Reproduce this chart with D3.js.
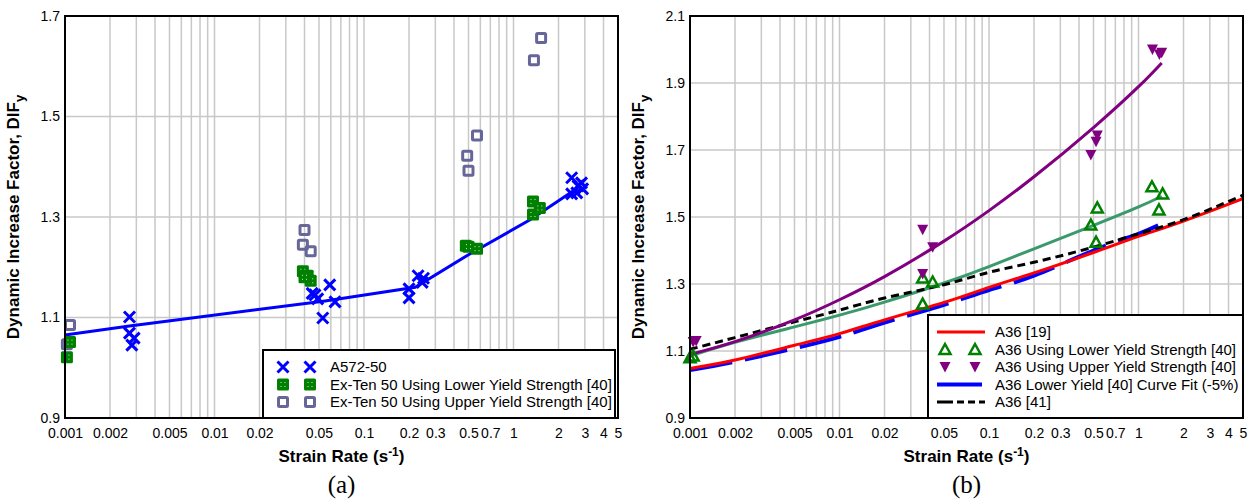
<!DOCTYPE html>
<html><head><meta charset="utf-8">
<script src="https://cdn.jsdelivr.net/npm/d3@7"></script>
<style>body{margin:0;background:#fff}svg{display:block}</style>
</head><body>
<svg id="c" width="1252" height="500"></svg>
<script>
// ---------- DATA ----------
const xTickValues = [0.001,0.002,0.005,0.01,0.02,0.05,0.1,0.2,0.3,0.5,0.7,1,2,3,4,5];
const xTickLabels = ["0.001","0.002","0.005","0.01","0.02","0.05","0.1","0.2","0.3","0.5","0.7","1","2","3","4","5"];
const yTicksA = [0.9,1.1,1.3,1.5,1.7];
const yTicksB = [0.9,1.1,1.3,1.5,1.7,1.9,2.1];

// Panel (a)
const a572Points = [[0.0027,1.101],[0.0027,1.069],[0.0029,1.059],[0.0028,1.045],
  [0.045,1.148],[0.049,1.137],[0.059,1.165],[0.053,1.099],[0.064,1.131],[0.047,1.145],
  [0.2,1.139],[0.2,1.157],[0.23,1.183],[0.25,1.178],[0.245,1.17],
  [2.45,1.378],[2.7,1.362],[2.9,1.356],[2.45,1.346],[2.65,1.348],[2.85,1.368]];
const a572Fit = [[0.001,1.065],[0.0027,1.083],[0.055,1.133],[0.22,1.16],[0.5,1.225],[1.3,1.295],[2.7,1.358]];
const exTenLower = [[0.00108,1.051],[0.00103,1.021],[0.039,1.192],[0.042,1.183],[0.044,1.173],[0.040,1.18],
  [0.48,1.243],[0.5,1.241],[0.57,1.237],[1.35,1.331],[1.35,1.305],[1.5,1.318]];
const exTenUpper = [[0.00108,1.085],[0.00103,1.047],[0.04,1.274],[0.039,1.245],[0.044,1.232],
  [0.57,1.462],[0.49,1.422],[0.5,1.392],[1.53,1.656],[1.37,1.612]];
const legendA = ["A572-50","Ex-Ten 50 Using Lower Yield Strength [40]","Ex-Ten 50 Using Upper Yield Strength [40]"];

// Panel (b)
const curveRates = [0.001,0.002,0.005,0.01,0.02,0.05,0.1,0.2,0.5,1,2,5];
const a36_19 = [1.048,1.073,1.117,1.152,1.193,1.245,1.290,1.333,1.394,1.442,1.488,1.555];
const a36_41 = [1.105,1.14,1.187,1.222,1.258,1.298,1.335,1.365,1.41,1.45,1.492,1.565];
const fitRates = [0.001,0.002,0.005,0.01,0.02,0.05,0.1,0.2,0.5,1,1.43];
const lowerFit = [1.085,1.126,1.172,1.207,1.246,1.303,1.352,1.405,1.475,1.53,1.562];
const upperFit = [1.09,1.128,1.193,1.253,1.322,1.428,1.519,1.62,1.767,1.889,1.96];
const lowerFit5 = [1.043,1.068,1.108,1.142,1.185,1.238,1.282,1.325,1.40,1.45,1.48];
const a36Lower = [[0.00105,1.085],[0.001,1.08],[0.036,1.318],[0.042,1.306],[0.036,1.240],
  [0.53,1.527],[0.48,1.476],[0.52,1.425],[1.23,1.59],[1.45,1.569],[1.37,1.521]];
const a36Upper = [[0.00105,1.127],[0.0011,1.13],[0.036,1.462],[0.042,1.41],[0.036,1.33],
  [0.53,1.743],[0.52,1.725],[0.48,1.685],[1.24,2.0],[1.43,1.99],[1.38,1.985]];
const legendB = ["A36 [19]","A36 Using Lower Yield Strength [40]","A36 Using Upper Yield Strength [40]","A36 Lower Yield [40] Curve Fit (-5%)","A36 [41]"];

// ---------- DRAW ----------
const svg = d3.select("#c");
const FONT = "'Liberation Sans', Arial, sans-serif";
const yTop = 16, yBot = 418;

function panel(x0, x1, yDomain, yTicks, label) {
  const x = d3.scaleLog().domain([0.001,5]).range([x0,x1]);
  const y = d3.scaleLinear().domain(yDomain).range([yBot,yTop]);
  const g = svg.append("g");
  const grid = [];
  for (let e=-3; e<=0; e++) for (let m=1; m<=9; m++) { const v=m*Math.pow(10,e); if (v<=5.0001) grid.push(v); }
  g.selectAll(".vg").data(grid).join("line").attr("x1",d=>x(d)).attr("x2",d=>x(d))
    .attr("y1",yTop).attr("y2",yBot).attr("stroke","#c8c8c8").attr("stroke-width",1.5);
  g.selectAll(".hg").data(yTicks).join("line").attr("y1",d=>y(d)).attr("y2",d=>y(d))
    .attr("x1",x0).attr("x2",x1).attr("stroke","#c8c8c8").attr("stroke-width",1.5);
  const xa = d3.axisBottom(x).tickValues(xTickValues).tickFormat((d,i)=>xTickLabels[i]).tickSize(0).tickPadding(10);
  const gx = g.append("g").attr("transform",`translate(0,${yBot})`).call(xa);
  gx.select(".domain").remove();
  gx.selectAll("text").attr("font-family",FONT).attr("font-size",14).attr("fill","#000");
  const ya = d3.axisLeft(y).tickValues(yTicks).tickFormat(d3.format(".1f")).tickSize(0).tickPadding(5);
  const gy = g.append("g").attr("transform",`translate(${x0},0)`).call(ya);
  gy.select(".domain").remove();
  gy.selectAll("text").attr("font-family",FONT).attr("font-size",14).attr("fill","#000");
  const cx = (x0+x1)/2;
  const xt = svg.append("text").attr("x",cx).attr("y",462).attr("text-anchor","middle")
    .attr("font-family",FONT).attr("font-size",17).attr("font-weight","bold");
  xt.append("tspan").text("Strain Rate (s");
  xt.append("tspan").attr("dy",-6).attr("font-size",12).text("-1");
  xt.append("tspan").attr("dy",6).text(")");
  const yt = svg.append("text").attr("transform",`translate(${x0-46},${(yTop+yBot)/2}) rotate(-90)`)
    .attr("text-anchor","middle").attr("font-family",FONT).attr("font-size",17).attr("font-weight","bold");
  yt.append("tspan").text("Dynamic Increase Factor, DIF");
  yt.append("tspan").attr("dy",5).attr("font-size",13).text("y");
  svg.append("text").attr("x",cx).attr("y",493).attr("text-anchor","middle")
    .attr("font-family","'Liberation Serif','Times New Roman',serif").attr("font-size",25).text(label);
  return {x,y,g,x0,x1};
}

function xMark(sel, s) { sel.append("path").attr("d",`M${-s},${-s}L${s},${s}M${-s},${s}L${s},${-s}`)
  .attr("stroke","#0000ff").attr("stroke-width",3).attr("fill","none"); }
function greenSq(sel) {
  sel.append("rect").attr("x",-6).attr("y",-6).attr("width",12).attr("height",12).attr("rx",1.5).attr("fill","#008000");
  [[-2.5,-2.5],[1.5,-2.5],[-2.5,1.5],[1.5,1.5]].forEach(p=>sel.append("rect").attr("x",p[0]).attr("y",p[1]).attr("width",1).attr("height",1).attr("fill","#cfe8cf"));
}
function greySq(sel) { sel.append("rect").attr("x",-4.5).attr("y",-4.5).attr("width",9).attr("height",9).attr("rx",1)
  .attr("fill","none").attr("stroke","#666699").attr("stroke-width",3); }
function triUp(sel) { sel.append("path").attr("d","M0,-5.5L5.5,4.5L-5.5,4.5Z").attr("fill","none").attr("stroke","#008000").attr("stroke-width",2.5); }
function triDown(sel) { sel.append("path").attr("d","M-5.5,-5L5.5,-5L0,5.5Z").attr("fill","#800080"); }

// ----- Panel A -----
const A = panel(65, 618, [0.9,1.7], yTicksA, "(a)");
const lineA = d3.line().x(d=>A.x(d[0])).y(d=>A.y(d[1]));
A.g.append("path").datum(a572Fit).attr("d",lineA).attr("fill","none").attr("stroke","#0000ff").attr("stroke-width",3);
A.g.selectAll(".gu").data(exTenUpper).join("g").attr("transform",d=>`translate(${A.x(d[0])},${A.y(d[1])})`).each(function(){greySq(d3.select(this));});
A.g.selectAll(".gl").data(exTenLower).join("g").attr("transform",d=>`translate(${A.x(d[0])},${A.y(d[1])})`).each(function(){greenSq(d3.select(this));});
A.g.selectAll(".xm").data(a572Points).join("g").attr("transform",d=>`translate(${A.x(d[0])},${A.y(d[1])})`).each(function(){xMark(d3.select(this),5.5);});
A.g.append("rect").attr("x",A.x0).attr("y",yTop).attr("width",A.x1-A.x0).attr("height",yBot-yTop).attr("fill","none").attr("stroke","#000").attr("stroke-width",2);
const LA = svg.append("g");
LA.append("rect").attr("x",263).attr("y",350).attr("width",352).attr("height",68).attr("fill","#fff").attr("stroke","#000").attr("stroke-width",2);
const markA = [s=>xMark(s,5.5), greenSq, greySq];
legendA.forEach((t,i)=>{
  const yy = 367 + i*17.5;
  [283,310].forEach(xx=>{ const s=LA.append("g").attr("transform",`translate(${xx},${yy})`); markA[i](s); });
  LA.append("text").attr("x",330).attr("y",yy+5).attr("font-family",FONT).attr("font-size",15).text(t);
});

// ----- Panel B -----
const B = panel(690, 1243, [0.9,2.1], yTicksB, "(b)");
const lineB = d3.line().curve(d3.curveNatural).x(d=>B.x(d[0])).y(d=>B.y(d[1]));
const zip = (xs,ys)=>xs.map((v,i)=>[v,ys[i]]);
B.g.append("path").datum(zip(fitRates,lowerFit5)).attr("d",lineB).attr("fill","none").attr("stroke","#0000ff").attr("stroke-width",4).attr("stroke-dasharray","43,13");
B.g.append("path").datum(zip(curveRates,a36_19)).attr("d",lineB).attr("fill","none").attr("stroke","#ff0000").attr("stroke-width",3);
B.g.append("path").datum(zip(fitRates,lowerFit)).attr("d",lineB).attr("fill","none").attr("stroke","#3a9a6c").attr("stroke-width",3);
B.g.append("path").datum(zip(curveRates,a36_41)).attr("d",lineB).attr("fill","none").attr("stroke","#000").attr("stroke-width",3).attr("stroke-dasharray","8,5");
B.g.append("path").datum(zip(fitRates,upperFit)).attr("d",lineB).attr("fill","none").attr("stroke","#800080").attr("stroke-width",3);
B.g.selectAll(".tu").data(a36Lower).join("g").attr("transform",d=>`translate(${B.x(d[0])},${B.y(d[1])})`).each(function(){triUp(d3.select(this));});
B.g.selectAll(".td").data(a36Upper).join("g").attr("transform",d=>`translate(${B.x(d[0])},${B.y(d[1])})`).each(function(){triDown(d3.select(this));});
B.g.append("rect").attr("x",B.x0).attr("y",yTop).attr("width",B.x1-B.x0).attr("height",yBot-yTop).attr("fill","none").attr("stroke","#000").attr("stroke-width",2);
const LB = svg.append("g");
LB.append("rect").attr("x",928).attr("y",315).attr("width",315).attr("height",103).attr("fill","#fff").attr("stroke","#000").attr("stroke-width",2);
legendB.forEach((t,i)=>{
  const yy = 332 + i*17.5;
  if (i===0) LB.append("line").attr("x1",937).attr("x2",985).attr("y1",yy).attr("y2",yy).attr("stroke","#ff0000").attr("stroke-width",3);
  if (i===1) [945,975].forEach(xx=>triUp(LB.append("g").attr("transform",`translate(${xx},${yy})`)));
  if (i===2) [945,975].forEach(xx=>triDown(LB.append("g").attr("transform",`translate(${xx},${yy})`)));
  if (i===3) LB.append("line").attr("x1",937).attr("x2",982).attr("y1",yy).attr("y2",yy).attr("stroke","#0000ff").attr("stroke-width",4);
  if (i===4) LB.append("line").attr("x1",937).attr("x2",985).attr("y1",yy).attr("y2",yy).attr("stroke","#000").attr("stroke-width",3).attr("stroke-dasharray","16,4,7,4,7,4");
  LB.append("text").attr("x",995).attr("y",yy+5).attr("font-family",FONT).attr("font-size",15).text(t);
});
</script>
</body></html>
